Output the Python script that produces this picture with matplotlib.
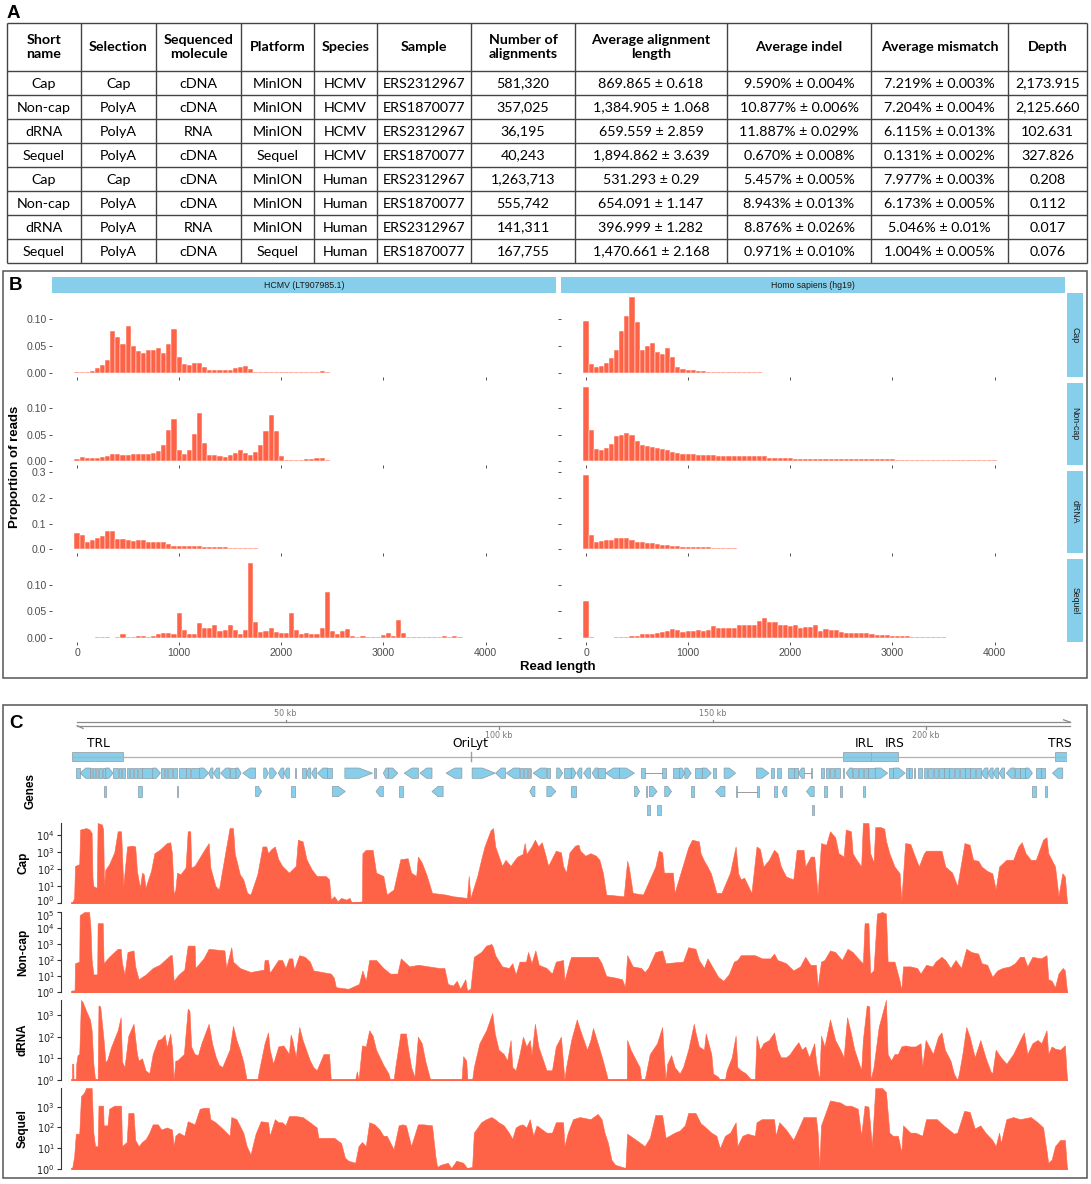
import numpy as np
import matplotlib
matplotlib.use('Agg')
import matplotlib.pyplot as plt
import matplotlib.transforms as mtransforms
from matplotlib.patches import Rectangle, Polygon
from matplotlib.ticker import FixedLocator, FixedFormatter, NullLocator

# ------------------------------------------------------------------ data
# Panel A table
headers = ["Short\nname", "Selection", "Sequenced\nmolecule", "Platform", "Species", "Sample",
           "Number of\nalignments", "Average alignment\nlength", "Average indel", "Average mismatch", "Depth"]
short_names = ["Cap", "Non-cap", "dRNA", "Sequel", "Cap", "Non-cap", "dRNA", "Sequel"]
selection = ["Cap", "PolyA", "PolyA", "PolyA", "Cap", "PolyA", "PolyA", "PolyA"]
molecule = ["cDNA", "cDNA", "RNA", "cDNA", "cDNA", "cDNA", "RNA", "cDNA"]
platform = ["MinION", "MinION", "MinION", "Sequel", "MinION", "MinION", "MinION", "Sequel"]
species = ["HCMV", "HCMV", "HCMV", "HCMV", "Human", "Human", "Human", "Human"]
sample = ["ERS2312967", "ERS1870077", "ERS2312967", "ERS1870077",
          "ERS2312967", "ERS1870077", "ERS2312967", "ERS1870077"]
n_align = ["581,320", "357,025", "36,195", "40,243", "1,263,713", "555,742", "141,311", "167,755"]
avg_len = ["869.865 ± 0.618", "1,384.905 ± 1.068", "659.559 ± 2.859", "1,894.862 ± 3.639",
           "531.293 ± 0.29", "654.091 ± 1.147", "396.999 ± 1.282", "1,470.661 ± 2.168"]
avg_indel = ["9.590% ± 0.004%", "10.877% ± 0.006%", "11.887% ± 0.029%", "0.670% ± 0.008%",
             "5.457% ± 0.005%", "8.943% ± 0.013%", "8.876% ± 0.026%", "0.971% ± 0.010%"]
avg_mm = ["7.219% ± 0.003%", "7.204% ± 0.004%", "6.115% ± 0.013%", "0.131% ± 0.002%",
          "7.977% ± 0.003%", "6.173% ± 0.005%", "5.046% ± 0.01%", "1.004% ± 0.005%"]
depth = ["2,173.915", "2,125.660", "102.631", "327.826", "0.208", "0.112", "0.017", "0.076"]

# Panel B histograms (proportion of reads per 50 bp bin, bins centred at 0, 50, 100, ...)
BINW = 50
row_names = ["Cap", "Non-cap", "dRNA", "Sequel"]
facet_names = ["HCMV (LT907985.1)", "Homo sapiens (hg19)"]
hcmv_cap = [0.002, 0.003, 0.003, 0.004, 0.010, 0.015, 0.025, 0.077, 0.067, 0.053,
            0.087, 0.050, 0.040, 0.037, 0.043, 0.042, 0.047, 0.037, 0.053, 0.081,
            0.029, 0.017, 0.015, 0.018, 0.018, 0.012, 0.006, 0.006, 0.006, 0.005,
            0.006, 0.009, 0.011, 0.013, 0.008, 0.003, 0.003, 0.003, 0.002, 0.002,
            0.002, 0.002, 0.002, 0.002, 0.002, 0.002, 0.003, 0.003, 0.004, 0.003,
            0.001, 0.001, 0.001, 0.001, 0.001, 0.001, 0.001, 0.001, 0.0008, 0.0008,
            0.0006, 0.0006, 0.0006, 0.0005, 0.0005, 0.0005, 0.0004, 0.0004, 0.0003, 0.0003,
            0.0003, 0.0002, 0.0002, 0, 0, 0, 0, 0, 0, 0,
            0, 0, 0, 0, 0, 0, 0, 0, 0, 0]
human_cap = [0.095, 0.017, 0.012, 0.014, 0.018, 0.028, 0.042, 0.077, 0.105, 0.140,
             0.093, 0.043, 0.049, 0.056, 0.038, 0.036, 0.046, 0.029, 0.012, 0.007,
             0.006, 0.005, 0.004, 0.004, 0.003, 0.003, 0.003, 0.003, 0.002, 0.002,
             0.002, 0.002, 0.002, 0.002, 0.003, 0.001, 0.001, 0.001, 0.001, 0.001,
             0.0008, 0.0006, 0.0005, 0.0004, 0.0003, 0.0002, 0, 0, 0, 0,
             0, 0, 0, 0, 0, 0, 0, 0, 0, 0,
             0, 0, 0, 0, 0, 0, 0, 0, 0, 0,
             0, 0, 0, 0, 0, 0, 0, 0, 0, 0,
             0, 0, 0, 0, 0, 0, 0, 0, 0, 0]
hcmv_noncap = [0.004, 0.008, 0.006, 0.006, 0.007, 0.008, 0.010, 0.013, 0.013, 0.012,
               0.012, 0.013, 0.013, 0.013, 0.013, 0.016, 0.020, 0.030, 0.059, 0.079,
               0.022, 0.014, 0.022, 0.051, 0.090, 0.035, 0.011, 0.012, 0.009, 0.008,
               0.011, 0.015, 0.022, 0.015, 0.012, 0.018, 0.031, 0.057, 0.087, 0.057,
               0.009, 0.002, 0.002, 0.002, 0.003, 0.004, 0.005, 0.006, 0.007, 0.002,
               0.001, 0.001, 0.001, 0.001, 0.001, 0.001, 0.001, 0.001, 0.001, 0.001,
               0.0008, 0.0008, 0.0008, 0.0008, 0.0006, 0.0006, 0.0006, 0.0006, 0.0005, 0.0005,
               0.0005, 0.0004, 0.0004, 0.0004, 0.0003, 0.0003, 0.0003, 0.0003, 0.0002, 0.0002,
               0.0002, 0.0002, 0.0002, 0.0001, 0.0001, 0.0001, 0.0001, 0.0001, 0.0001, 0.0001]
human_noncap = [0.140, 0.059, 0.023, 0.021, 0.025, 0.033, 0.047, 0.050, 0.053, 0.050,
                0.038, 0.030, 0.028, 0.027, 0.025, 0.023, 0.021, 0.018, 0.015, 0.014,
                0.014, 0.013, 0.012, 0.011, 0.011, 0.011, 0.010, 0.010, 0.010, 0.010,
                0.009, 0.009, 0.009, 0.009, 0.009, 0.009, 0.007, 0.007, 0.007, 0.007,
                0.007, 0.005, 0.005, 0.005, 0.005, 0.005, 0.005, 0.005, 0.005, 0.005,
                0.005, 0.004, 0.004, 0.004, 0.004, 0.004, 0.004, 0.004, 0.004, 0.004,
                0.004, 0.003, 0.003, 0.003, 0.003, 0.003, 0.003, 0.003, 0.003, 0.003,
                0.003, 0.002, 0.002, 0.002, 0.002, 0.002, 0.002, 0.002, 0.002, 0.002,
                0.002, 0.001, 0.001, 0.001, 0.001, 0.001, 0.001, 0.001, 0.001, 0.001]
hcmv_drna = [0.062, 0.055, 0.030, 0.038, 0.045, 0.051, 0.072, 0.072, 0.040, 0.040,
             0.038, 0.033, 0.037, 0.035, 0.030, 0.030, 0.030, 0.030, 0.022, 0.013,
             0.012, 0.012, 0.012, 0.012, 0.012, 0.008, 0.008, 0.008, 0.008, 0.008,
             0.005, 0.005, 0.005, 0.005, 0.005, 0.005, 0.003, 0.003, 0.003, 0.003,
             0.003, 0.003, 0.003, 0.003, 0.003, 0.003, 0.003, 0.003, 0.003, 0.003,
             0.002, 0.002, 0.002, 0.002, 0.002, 0.002, 0.002, 0.002, 0.002, 0.002,
             0.001, 0.001, 0.001, 0.001, 0.001, 0.001, 0.001, 0.001, 0.001, 0.001,
             0.001, 0.001, 0.001, 0.001, 0.001, 0.0008, 0.0008, 0.0008, 0.0006, 0.0006,
             0.0005, 0.0005, 0.0004, 0.0004, 0.0003, 0.0003, 0.0002, 0.0002, 0.0002, 0.0001]
human_drna = [0.290, 0.055, 0.027, 0.032, 0.036, 0.038, 0.042, 0.042, 0.042, 0.038,
              0.029, 0.027, 0.024, 0.023, 0.020, 0.018, 0.015, 0.014, 0.013, 0.010,
              0.008, 0.008, 0.008, 0.008, 0.008, 0.005, 0.005, 0.005, 0.005, 0.005,
              0.003, 0.003, 0.003, 0.003, 0.003, 0.003, 0.003, 0.003, 0.003, 0.003,
              0.003, 0.002, 0.002, 0.002, 0.002, 0.002, 0.002, 0.002, 0.002, 0.002,
              0.002, 0.002, 0.002, 0.002, 0.002, 0.002, 0.002, 0.002, 0.002, 0.002,
              0.001, 0.001, 0.001, 0.001, 0.001, 0.001, 0.001, 0.001, 0.001, 0.001,
              0.001, 0.001, 0.001, 0.001, 0.001, 0.0005, 0.0005, 0.0005, 0.0005, 0.0005,
              0, 0, 0, 0, 0, 0, 0, 0, 0, 0]
hcmv_sequel = [0.001, 0.001, 0.001, 0.001, 0.002, 0.002, 0.002, 0.001, 0.002, 0.007,
               0.003, 0.003, 0.005, 0.004, 0.003, 0.005, 0.007, 0.010, 0.010, 0.007,
               0.048, 0.016, 0.008, 0.008, 0.028, 0.019, 0.019, 0.024, 0.013, 0.015,
               0.024, 0.015, 0.008, 0.015, 0.141, 0.030, 0.011, 0.013, 0.019, 0.011,
               0.009, 0.009, 0.047, 0.015, 0.008, 0.010, 0.008, 0.008, 0.019, 0.086,
               0.013, 0.007, 0.013, 0.017, 0.004, 0.003, 0.004, 0.003, 0.003, 0.003,
               0.006, 0.010, 0.005, 0.034, 0.010, 0.002, 0.002, 0.002, 0.002, 0.002,
               0.002, 0.002, 0.004, 0.002, 0.005, 0.002, 0.001, 0.001, 0.001, 0.001,
               0.001, 0.001, 0.001, 0.001, 0.001, 0.001, 0, 0, 0, 0]
human_sequel = [0.069, 0.003, 0.001, 0.001, 0.001, 0.001, 0.002, 0.002, 0.003, 0.005,
                0.005, 0.007, 0.007, 0.008, 0.010, 0.011, 0.014, 0.018, 0.016, 0.011,
                0.013, 0.014, 0.016, 0.014, 0.016, 0.022, 0.019, 0.019, 0.019, 0.019,
                0.024, 0.024, 0.024, 0.024, 0.033, 0.038, 0.030, 0.031, 0.024, 0.024,
                0.022, 0.024, 0.019, 0.021, 0.021, 0.024, 0.014, 0.018, 0.016, 0.016,
                0.011, 0.010, 0.010, 0.010, 0.010, 0.010, 0.007, 0.006, 0.006, 0.006,
                0.004, 0.004, 0.004, 0.004, 0.002, 0.002, 0.002, 0.002, 0.002, 0.002,
                0.002, 0.001, 0.001, 0.001, 0.001, 0.001, 0.001, 0.001, 0.001, 0.001,
                0.001, 0.001, 0.001, 0.001, 0.001, 0.001, 0.001, 0.001, 0.001, 0.001]
xticks_b = [0, 1000, 2000, 3000, 4000]

# Panel C: genome annotation (positions in kb)
GENOME_KB = 233.0
ruler_ticks_kb = [50, 100, 150, 200]
regions = [("TRL", 0.0, 12.0), ("IRL", 180.6, 187.2), ("IRS", 187.2, 193.5), ("TRS", 230.2, 233.0)]
region_label_kb = [6.2, 185.5, 192.6, 231.3]
orilyt_kb = 93.4
# genes: (start kb, end kb, strand, row)
genes = [
    (0.9, 1.9, '.', 0), (1.9, 4.3, '-', 0), (4.3, 4.7, '.', 0), (4.9, 5.4, '.', 0), (5.6, 6.1, '.', 0),
    (6.3, 7.1, '.', 0), (7.3, 7.9, '.', 0), (7.9, 9.6, '+', 0), (9.6, 10.7, '.', 0), (10.9, 11.5, '.', 0),
    (11.7, 12.5, '.', 0), (12.8, 13.4, '.', 0), (13.6, 14.4, '.', 0), (14.6, 15.2, '.', 0), (15.4, 16.4, '.', 0),
    (16.4, 18.9, '.', 0), (18.9, 20.7, '+', 0), (20.9, 21.5, '.', 0), (21.7, 22.3, '.', 0), (22.5, 23.4, '.', 0),
    (23.6, 24.6, '.', 0), (25.0, 26.7, '.', 0), (26.8, 27.7, '.', 0), (27.9, 29.9, '.', 0), (29.9, 32.0, '+', 0),
    (32.0, 33.0, '-', 0), (33.1, 34.6, '-', 0), (34.8, 37.0, '-', 0), (37.0, 38.4, '.', 0), (38.4, 39.6, '+', 0),
    (40.0, 43.0, '-', 0), (44.9, 46.0, '+', 0), (46.3, 47.9, '+', 0), (48.3, 49.6, '-', 0), (49.6, 50.9, '-', 0),
    (52.3, 52.5, '.', 0), (53.9, 54.7, '.', 0), (54.9, 55.9, '-', 0), (56.1, 57.3, '-', 0), (57.5, 59.8, '-', 0),
    (59.8, 61.0, '.', 0), (63.9, 70.4, '+', 0), (70.7, 71.1, '.', 0), (72.9, 74.1, '-', 0), (74.1, 76.3, '+', 0),
    (77.8, 81.1, '-', 0), (81.5, 84.3, '-', 0), (87.6, 91.3, '-', 0), (93.7, 99.1, '+', 0), (99.2, 101.5, '-', 0),
    (101.7, 104.8, '-', 0), (104.8, 105.6, '.', 0), (105.8, 106.6, '.', 0), (106.8, 107.2, '.', 0),
    (107.4, 107.6, '.', 0), (108.0, 111.1, '-', 0), (111.2, 112.0, '.', 0), (113.5, 114.9, '+', 0),
    (115.3, 116.9, '.', 0), (116.9, 118.0, '+', 0), (118.2, 119.4, '-', 0), (119.8, 121.4, '-', 0),
    (121.8, 123.2, '-', 0), (123.2, 124.7, '.', 0), (125.0, 128.2, '-', 0), (128.2, 131.7, '+', 0),
    (133.3, 134.1, '.', 0), (138.2, 139.0, '.', 0), (140.7, 142.3, '.', 0), (142.3, 143.5, '+', 0),
    (143.5, 145.0, '+', 0), (145.8, 147.6, '.', 0), (147.6, 149.7, '+', 0), (150.1, 150.7, '.', 0),
    (152.7, 155.4, '+', 0), (160.3, 163.2, '+', 0), (163.8, 164.4, '.', 0), (165.2, 166.0, '.', 0),
    (167.6, 169.0, '.', 0), (169.0, 169.9, '.', 0), (170.1, 171.5, '-', 0), (173.0, 173.3, '.', 0),
    (175.4, 176.2, '.', 0), (176.5, 177.3, '.', 0), (177.5, 178.5, '.', 0), (178.7, 179.9, '.', 0),
    (180.5, 180.7, '.', 0), (181.3, 182.8, '-', 0), (182.8, 184.0, '.', 0), (184.2, 185.2, '.', 0),
    (185.4, 186.5, '.', 0), (186.5, 188.1, '.', 0), (188.1, 191.0, '+', 0), (191.4, 192.2, '.', 0),
    (192.4, 195.1, '+', 0), (195.2, 195.9, '.', 0), (196.1, 196.7, '.', 0), (197.1, 197.5, '.', 0),
    (198.2, 199.0, '.', 0), (199.6, 200.1, '.', 0), (200.4, 201.6, '.', 0), (201.8, 202.8, '.', 0),
    (203.0, 204.1, '.', 0), (204.2, 205.3, '.', 0), (205.4, 206.5, '.', 0), (206.7, 207.7, '.', 0),
    (207.9, 209.0, '.', 0), (209.1, 210.2, '.', 0), (210.4, 211.4, '.', 0), (211.6, 212.9, '.', 0),
    (212.9, 214.5, '-', 0), (214.5, 215.7, '-', 0), (215.7, 217.0, '-', 0), (217.1, 218.4, '-', 0),
    (218.8, 220.8, '-', 0), (220.8, 222.1, '.', 0), (222.1, 223.3, '.', 0), (223.3, 224.9, '+', 0),
    (225.7, 226.8, '.', 0), (226.9, 227.9, '.', 0), (229.6, 232.0, '-', 0),
    (7.4, 7.9, '.', 1), (15.5, 16.4, '.', 1), (24.6, 24.9, '.', 1), (43.0, 44.4, '+', 1), (51.2, 52.3, '.', 1),
    (61.0, 64.0, '+', 1), (71.2, 72.9, '-', 1), (76.6, 77.6, '.', 1), (84.3, 86.9, '-', 1), (107.2, 108.4, '-', 1),
    (111.2, 113.3, '+', 1), (116.9, 118.0, '.', 1), (131.7, 132.9, '+', 1), (134.4, 134.7, '.', 1),
    (135.2, 137.0, '+', 1), (138.8, 140.4, '+', 1), (145.0, 145.6, '.', 1), (150.7, 152.9, '-', 1),
    (155.4, 155.8, '.', 1), (160.3, 160.9, '.', 1), (164.4, 165.2, '.', 1), (166.3, 167.4, '-', 1),
    (172.0, 173.8, '-', 1), (176.2, 176.9, '.', 1), (179.8, 180.3, '.', 1), (185.2, 185.6, '.', 1),
    (224.9, 225.7, '.', 1), (227.9, 228.2, '.', 1),
    (134.7, 135.3, '.', 2), (137.1, 138.0, '.', 2), (173.4, 173.8, '.', 2),
]
gene_links = [(134.1, 138.2, 0), (171.5, 173.0, 0), (155.8, 160.3, 1)]

# Coverage tracks: (position kb, log10 coverage)
cap_cov = [(0.0, 0.0), (0.5, 0.3), (0.7, 2.2), (1.7, 2.3), (1.9, 4.35), (3.3, 4.44), (4.1, 4.35), (4.6, 4.15),
           (4.8, 1.5), (5.0, 1.0), (5.8, 0.9), (6.0, 4.74), (7.0, 4.65), (7.3, 4.35), (7.5, 1.0), (7.8, 1.96),
           (8.7, 2.3), (9.9, 3.0), (10.7, 4.25), (11.5, 4.25), (11.7, 2.9), (12.0, 1.0), (12.9, 3.35), (14.0, 3.4),
           (14.8, 3.35), (15.2, 1.9), (15.9, 0.9), (16.4, 1.8), (16.8, 1.7), (17.2, 0.9), (18.5, 1.9), (19.3, 2.95),
           (20.5, 3.15), (22.2, 3.55), (23.0, 3.6), (23.4, 2.95), (23.8, 0.5), (24.2, 0.8), (24.6, 1.8), (25.4, 1.7),
           (26.6, 2.1), (27.1, 4.25), (27.7, 4.25), (27.9, 2.1), (28.7, 2.2), (29.9, 2.7), (31.1, 3.2), (32.0, 3.55),
           (32.4, 2.1), (33.6, 1.0), (34.4, 0.8), (36.0, 3.15), (36.9, 4.44), (37.7, 4.44), (38.1, 2.95), (39.3, 1.7),
           (40.1, 1.4), (41.0, 0.6), (41.8, 0.5), (43.4, 1.7), (44.6, 3.35), (45.5, 3.35), (45.9, 2.95), (46.7, 3.2),
           (47.5, 3.35), (48.3, 2.6), (49.2, 2.2), (50.8, 1.8), (52.4, 2.2), (52.9, 3.75), (54.0, 3.65), (54.9, 2.6),
           (56.1, 2.0), (57.3, 1.6), (59.4, 1.6), (60.2, 1.4), (60.6, 0.2), (61.4, 0.4), (62.2, 0.1), (63.0, 0.3),
           (64.2, 0.2), (65.0, 0.3), (65.5, 0.0), (67.9, 0.1), (68.0, 2.95), (68.8, 3.15), (70.4, 3.15), (71.2, 1.8),
           (72.9, 1.6), (73.7, 0.5), (75.3, 0.8), (76.9, 2.6), (78.6, 2.65), (79.4, 1.8), (80.6, 1.6), (81.0, 2.75),
           (81.9, 2.4), (83.1, 1.6), (84.3, 0.6), (87.5, 0.5), (89.2, 0.4), (92.5, 0.3), (92.9, 1.6), (93.3, 0.3),
           (94.9, 1.6), (95.8, 2.56), (96.6, 3.35), (98.0, 4.3), (98.6, 4.44), (99.1, 3.35), (100.7, 2.2),
           (101.5, 2.56), (102.7, 2.2), (103.5, 2.5), (104.3, 2.75), (105.5, 2.9), (106.0, 3.55), (106.4, 2.9),
           (107.6, 3.35), (108.4, 3.75), (109.2, 3.35), (110.0, 3.6), (110.8, 2.9), (111.5, 2.2), (113.3, 3.1),
           (114.5, 3.0), (115.0, 2.2), (115.7, 1.8), (116.5, 3.0), (117.8, 3.4), (118.6, 3.45), (119.0, 3.1),
           (120.2, 2.8), (121.4, 2.95), (122.7, 2.8), (123.5, 2.56), (124.3, 1.8), (125.1, 0.5), (129.2, 0.4),
           (130.0, 2.5), (130.4, 2.1), (131.3, 0.6), (133.7, 0.5), (136.6, 2.16), (137.4, 3.1), (138.2, 3.0),
           (138.6, 1.8), (140.7, 1.8), (141.1, 0.6), (144.3, 3.3), (145.2, 3.75), (146.8, 3.65), (147.2, 2.95),
           (148.0, 2.5), (148.8, 2.16), (149.6, 1.76), (150.9, 0.6), (152.1, 0.6), (154.1, 1.8), (155.4, 3.35),
           (156.0, 1.76), (156.6, 1.4), (157.4, 1.5), (159.1, 0.6), (160.3, 3.35), (161.1, 3.2), (161.9, 2.16),
           (163.2, 2.56), (164.4, 3.15), (165.2, 2.95), (166.0, 2.16), (167.2, 1.57), (168.9, 1.4), (169.7, 3.15),
           (171.3, 3.15), (171.7, 2.16), (173.0, 2.75), (173.8, 2.75), (174.6, 0.5), (175.4, 3.55), (176.6, 3.45),
           (177.5, 4.25), (178.7, 3.9), (179.5, 2.95), (180.7, 2.75), (181.2, 4.35), (182.4, 4.25), (182.8, 2.95),
           (183.6, 2.6), (184.8, 2.16), (185.2, 4.74), (186.5, 4.74), (186.9, 2.95), (187.7, 2.4), (188.1, 4.5),
           (189.3, 4.5), (190.2, 4.4), (190.6, 3.7), (191.4, 2.95), (192.6, 2.16), (193.8, 1.76), (194.2, 0.1),
           (195.1, 3.55), (196.3, 3.5), (197.1, 2.95), (198.3, 2.16), (199.5, 2.95), (200.0, 3.1), (203.6, 3.1),
           (204.5, 2.16), (206.1, 1.8), (207.3, 1.0), (209.0, 3.55), (210.2, 3.45), (211.0, 2.56), (212.2, 2.5),
           (213.0, 2.16), (214.3, 1.9), (215.5, 1.76), (216.3, 0.8), (217.1, 2.16), (218.8, 2.56), (220.4, 2.56),
           (221.6, 3.35), (222.4, 3.6), (223.3, 2.95), (224.5, 2.56), (225.7, 2.56), (227.4, 3.75), (228.2, 3.9),
           (228.6, 2.95), (230.2, 2.16), (231.0, 0.4), (231.9, 1.76), (232.5, 1.57), (233.0, 0.0)]
noncap_cov = [(0.0, 0.1), (0.6, 0.1), (0.7, 1.8), (1.7, 1.9), (1.8, 4.8), (2.9, 5.0), (4.0, 5.0), (4.3, 4.1),
              (4.6, 2.0), (5.0, 1.1), (5.9, 1.1), (6.0, 4.3), (7.2, 4.3), (7.4, 1.8), (8.7, 2.2), (10.7, 2.7),
              (11.4, 2.7), (11.7, 1.8), (12.3, 1.1), (13.0, 2.5), (14.4, 2.6), (14.8, 1.6), (15.6, 0.8), (17.3, 1.1),
              (18.9, 1.5), (20.5, 1.7), (23.0, 2.3), (23.4, 2.3), (23.8, 0.7), (25.0, 1.1), (26.3, 1.4), (27.1, 2.9),
              (28.7, 2.9), (28.9, 1.5), (30.8, 2.1), (32.0, 2.7), (35.7, 2.6), (36.1, 1.5), (37.3, 2.8), (37.7, 1.9),
              (39.3, 1.5), (41.8, 1.25), (44.9, 1.4), (45.1, 2.0), (45.9, 2.0), (46.3, 1.2), (48.3, 2.0), (49.2, 2.0),
              (50.0, 1.5), (50.8, 2.1), (51.6, 2.1), (52.0, 1.4), (53.2, 2.3), (54.5, 2.2), (55.7, 1.9), (56.5, 1.35),
              (60.6, 1.15), (61.3, 0.9), (61.8, 0.3), (64.7, 0.2), (67.2, 0.5), (68.0, 1.35), (68.8, 0.7), (69.6, 2.0),
              (71.2, 2.0), (72.9, 1.5), (74.5, 1.15), (76.2, 1.15), (77.0, 2.1), (79.0, 1.6), (81.1, 1.7), (86.0, 1.5),
              (87.2, 1.5), (88.0, 0.5), (89.2, 0.4), (90.1, 0.7), (90.9, 0.2), (92.1, 0.8), (92.5, 0.1), (93.3, 0.2),
              (94.1, 2.2), (95.8, 2.5), (97.0, 2.9), (98.2, 3.0), (98.6, 2.8), (99.1, 2.3), (100.7, 1.6), (102.3, 1.5),
              (103.1, 1.8), (103.9, 1.1), (104.8, 1.9), (106.3, 1.9), (106.8, 2.5), (107.6, 1.8), (108.5, 2.6),
              (109.3, 1.7), (111.1, 1.5), (112.4, 1.15), (113.3, 1.9), (115.0, 2.0), (115.3, 0.7), (116.5, 1.9),
              (116.9, 2.2), (123.1, 2.2), (124.0, 1.8), (125.1, 1.0), (127.2, 0.9), (128.8, 0.8), (129.5, 0.3),
              (130.0, 2.3), (131.3, 1.6), (133.3, 1.5), (134.1, 1.25), (134.9, 1.5), (136.6, 2.5), (138.2, 2.6),
              (139.0, 1.8), (143.1, 1.9), (144.3, 2.8), (146.0, 2.7), (146.8, 2.0), (148.0, 1.5), (148.8, 2.1),
              (150.1, 1.5), (151.3, 0.95), (152.5, 0.7), (153.8, 1.1), (155.0, 1.9), (155.8, 2.0), (156.6, 2.3),
              (159.9, 2.3), (161.6, 2.1), (163.5, 2.1), (164.4, 2.4), (165.2, 2.0), (167.2, 1.8), (168.9, 1.35),
              (170.5, 1.6), (171.7, 2.2), (172.9, 1.7), (174.2, 1.7), (174.6, 0.3), (175.4, 1.9), (176.2, 2.0),
              (177.5, 2.6), (178.7, 2.5), (180.3, 2.0), (181.6, 2.7), (182.8, 2.5), (184.4, 2.0), (185.2, 1.8),
              (185.6, 4.3), (186.5, 4.3), (186.9, 1.15), (187.7, 1.35), (188.5, 4.9), (189.7, 5.0), (190.6, 4.9),
              (191.0, 1.9), (192.6, 1.9), (193.8, 0.7), (194.2, 0.1), (194.6, 1.6), (196.3, 1.6), (197.9, 1.5),
              (198.7, 1.15), (200.0, 1.7), (201.5, 1.6), (202.2, 1.9), (203.6, 2.2), (204.5, 2.0), (205.7, 1.5),
              (206.9, 2.0), (208.2, 1.5), (209.4, 2.7), (210.6, 2.5), (212.2, 2.4), (213.0, 1.8), (214.3, 1.7),
              (215.5, 0.95), (216.7, 1.35), (217.9, 1.5), (219.6, 1.6), (220.8, 1.8), (222.0, 2.2), (222.9, 2.2),
              (223.7, 1.6), (224.9, 2.2), (226.9, 2.1), (228.2, 2.3), (228.6, 0.8), (229.4, 0.7), (230.2, 0.3),
              (231.0, 1.15), (232.0, 1.5), (232.5, 1.35), (233.0, 0.0)]
drna_cov = [(0.0, 0.75), (0.3, 0.75), (0.35, 0.0), (0.9, 0.0), (1.0, 0.75), (1.3, 1.15), (1.7, 1.2), (2.1, 3.7),
            (2.5, 3.6), (3.3, 3.2), (4.2, 2.8), (4.6, 2.3), (5.0, 0.75), (5.4, 0.0), (6.0, 0.0), (6.2, 3.45),
            (6.6, 3.4), (7.4, 1.85), (7.8, 0.85), (8.2, 0.9), (9.1, 1.5), (10.7, 2.3), (11.4, 2.9), (11.7, 0.85),
            (12.3, 0.6), (13.2, 2.05), (14.4, 2.6), (15.2, 1.2), (15.6, 0.9), (16.4, 1.0), (17.2, 0.45), (18.1, 0.3),
            (18.9, 1.2), (20.1, 1.85), (20.9, 1.9), (21.7, 2.1), (22.2, 1.5), (23.0, 2.15), (23.4, 1.5), (23.8, 0.0),
            (24.2, 0.9), (24.6, 0.9), (26.2, 1.2), (27.1, 3.3), (27.5, 3.2), (27.9, 1.55), (28.7, 1.2), (29.5, 1.15),
            (30.3, 1.7), (32.0, 2.6), (32.8, 1.7), (33.6, 1.1), (34.4, 0.7), (35.2, 0.6), (36.9, 1.4), (37.7, 2.5),
            (38.5, 1.85), (39.3, 1.4), (40.1, 0.85), (40.9, 0.0), (43.4, 0.0), (43.8, 0.45), (45.1, 1.7),
            (45.9, 2.2), (46.3, 1.4), (47.1, 0.75), (48.3, 1.55), (49.5, 1.6), (50.8, 1.2), (51.2, 2.1),
            (51.6, 1.85), (52.4, 1.05), (53.2, 2.45), (54.0, 1.85), (55.7, 0.9), (56.5, 0.6), (57.3, 0.45),
            (58.9, 1.2), (60.2, 1.2), (60.6, 0.0), (66.3, 0.0), (66.7, 0.4), (67.1, 0.0), (67.9, 1.6), (68.8, 1.55),
            (69.6, 2.3), (70.4, 2.05), (71.2, 1.4), (72.9, 0.7), (74.1, 0.3), (74.5, 0.0), (75.3, 0.0), (75.7, 0.6),
            (76.9, 2.15), (78.2, 2.15), (78.6, 1.55), (79.4, 0.6), (80.2, 0.15), (81.0, 2.0), (81.9, 1.7),
            (82.7, 0.9), (83.5, 0.3), (83.9, 0.0), (91.2, 0.0), (91.6, 1.1), (92.3, 0.9), (92.6, 0.0), (93.7, 0.0),
            (94.1, 0.6), (95.4, 1.7), (97.0, 2.3), (98.4, 3.1), (99.0, 2.15), (99.9, 1.4), (101.1, 1.2),
            (101.9, 0.9), (102.7, 1.85), (103.1, 0.6), (103.9, 0.45), (104.8, 1.2), (105.6, 2.0), (106.4, 1.55),
            (107.2, 1.85), (107.6, 1.15), (108.4, 2.6), (109.2, 1.55), (111.1, 0.45), (112.4, 0.45), (113.3, 1.55),
            (114.5, 2.0), (115.3, 0.0), (115.7, 0.6), (116.9, 1.85), (118.2, 2.8), (119.0, 2.3), (120.6, 1.4),
            (121.4, 1.85), (122.0, 2.4), (123.1, 1.7), (124.3, 0.9), (125.5, 0.0), (129.9, 0.0), (130.0, 1.85),
            (130.8, 1.4), (132.1, 0.9), (132.9, 0.6), (133.3, 0.0), (134.1, 0.0), (135.3, 1.2), (137.0, 1.7),
            (138.2, 2.45), (138.6, 1.05), (139.0, 0.0), (139.4, 0.75), (140.3, 1.15), (141.1, 0.6), (142.3, 0.3),
            (143.1, 0.6), (144.3, 1.4), (145.6, 2.6), (146.0, 2.2), (146.8, 1.55), (148.0, 1.4), (148.4, 2.15),
            (149.7, 1.2), (150.1, 0.3), (151.3, 0.15), (151.7, 0.0), (152.9, 0.0), (153.3, 0.45), (154.5, 1.05),
            (155.4, 2.05), (155.8, 0.6), (156.6, 0.45), (157.8, 0.3), (159.1, 0.0), (159.9, 0.0), (160.3, 2.05),
            (161.1, 1.4), (161.9, 1.7), (163.2, 1.85), (164.4, 2.2), (165.2, 1.4), (166.0, 1.05), (167.2, 1.05),
            (168.1, 1.2), (169.3, 1.55), (170.1, 1.75), (170.9, 1.4), (171.7, 1.55), (172.6, 1.05), (173.8, 1.7),
            (174.2, 0.9), (175.0, 0.0), (175.4, 2.05), (176.2, 1.55), (177.5, 2.8), (178.7, 1.85), (179.9, 1.4),
            (180.7, 1.05), (181.5, 2.9), (182.4, 2.15), (183.2, 1.4), (184.8, 0.45), (185.2, 1.85), (186.1, 3.45),
            (186.7, 3.4), (187.0, 0.0), (187.7, 0.6), (188.9, 2.45), (190.6, 3.7), (191.0, 1.2), (191.8, 0.9),
            (192.6, 1.2), (193.4, 1.2), (194.2, 1.55), (195.1, 1.6), (196.3, 1.55), (197.5, 1.55), (198.7, 1.7),
            (199.1, 0.6), (199.9, 1.85), (200.7, 1.55), (201.6, 1.2), (202.8, 2.0), (203.6, 2.2), (204.4, 1.4),
            (205.7, 0.9), (206.5, 0.3), (207.3, 0.0), (207.7, 0.3), (208.5, 1.2), (209.4, 2.45), (210.2, 2.0),
            (211.4, 1.05), (212.7, 1.85), (213.9, 1.05), (215.1, 0.4), (215.5, 0.3), (216.3, 1.4), (217.5, 1.05),
            (218.8, 0.75), (220.4, 1.2), (222.0, 1.85), (222.9, 2.2), (223.7, 1.2), (224.9, 1.7), (226.1, 1.85),
            (227.0, 1.7), (228.2, 2.3), (228.6, 1.2), (229.4, 1.55), (230.2, 1.45), (231.4, 1.4), (232.5, 1.6),
            (233.0, 0.0)]
sequel_cov = [(0.0, 0.0), (0.5, 0.6), (0.9, 1.7), (1.7, 1.7), (2.1, 3.5), (2.9, 3.7), (3.3, 3.9), (4.6, 3.9),
              (5.0, 1.75), (5.4, 1.1), (6.0, 1.1), (6.2, 3.05), (7.3, 3.05), (7.4, 2.1), (8.3, 2.1), (8.7, 2.9),
              (9.9, 3.05), (11.5, 3.05), (11.7, 1.1), (12.8, 1.3), (13.2, 2.7), (14.4, 2.7), (14.8, 1.4), (15.6, 1.1),
              (16.4, 1.3), (17.3, 1.45), (18.1, 1.75), (18.9, 2.15), (20.1, 2.15), (20.9, 1.9), (22.2, 2.0),
              (23.4, 1.9), (23.8, 1.1), (24.2, 1.6), (25.0, 1.75), (26.3, 1.6), (27.1, 2.3), (28.7, 2.15),
              (29.9, 2.9), (31.1, 2.95), (32.0, 2.95), (32.4, 2.4), (33.6, 2.25), (35.2, 1.95), (36.9, 1.6),
              (37.3, 2.5), (38.5, 2.4), (40.1, 1.75), (40.9, 1.1), (41.8, 0.7), (43.0, 1.7), (44.2, 2.3), (45.9, 2.25),
              (46.3, 1.6), (47.5, 2.4), (48.3, 2.25), (49.2, 2.25), (50.0, 2.1), (50.8, 2.55), (52.4, 2.55),
              (54.0, 2.5), (55.7, 2.25), (57.3, 2.0), (57.7, 1.5), (58.9, 1.5), (61.4, 1.5), (63.0, 1.25),
              (63.9, 0.55), (64.7, 0.4), (66.3, 0.3), (67.1, 1.1), (67.9, 1.3), (68.8, 1.1), (69.6, 2.25),
              (70.8, 2.15), (72.0, 1.9), (72.9, 1.6), (73.7, 1.6), (75.3, 0.95), (76.5, 2.1), (77.4, 2.15),
              (78.2, 2.1), (79.4, 1.1), (81.0, 2.15), (82.3, 2.15), (84.3, 2.1), (85.1, 0.6), (85.5, 0.1), (86.3, 0.2),
              (88.0, 0.3), (88.8, 0.05), (90.0, 0.4), (91.6, 0.3), (92.5, 0.05), (93.7, 0.1), (94.1, 1.75),
              (95.8, 2.25), (97.0, 2.4), (98.2, 2.5), (99.0, 2.4), (99.9, 2.25), (101.1, 2.1), (102.3, 1.75),
              (103.1, 1.45), (103.9, 2.0), (104.7, 2.1), (105.5, 2.15), (106.4, 2.0), (107.2, 2.4), (108.0, 1.6),
              (108.8, 2.1), (111.1, 1.75), (112.4, 1.75), (113.3, 2.25), (115.0, 2.25), (115.3, 1.1), (116.1, 1.75),
              (117.3, 2.4), (118.9, 2.5), (121.4, 2.4), (123.1, 2.65), (124.0, 2.4), (124.7, 1.75), (125.5, 1.25),
              (126.3, 0.45), (127.2, 0.2), (128.8, 0.1), (129.6, 0.05), (130.0, 1.7), (132.1, 1.4), (134.1, 1.1),
              (135.3, 1.5), (136.6, 2.6), (138.2, 2.6), (139.0, 1.5), (141.1, 1.75), (142.3, 1.85), (143.5, 2.1),
              (144.3, 2.7), (146.0, 2.7), (147.2, 2.2), (148.4, 2.0), (149.7, 1.75), (150.9, 1.6), (151.7, 1.0),
              (152.9, 1.6), (154.1, 1.75), (155.4, 2.25), (155.8, 1.1), (157.0, 1.6), (158.2, 1.7), (159.9, 1.6),
              (160.3, 2.25), (161.5, 2.4), (164.4, 2.4), (164.8, 1.6), (165.6, 2.25), (167.2, 1.9), (168.9, 1.4),
              (169.7, 1.75), (171.3, 2.5), (174.2, 2.5), (174.6, 1.75), (175.0, 0.1), (175.4, 2.1), (177.5, 3.3),
              (179.9, 3.2), (181.1, 3.05), (182.4, 3.05), (184.0, 2.9), (184.8, 1.6), (185.6, 3.05), (186.5, 3.0),
              (187.3, 1.1), (188.1, 3.9), (189.7, 3.9), (190.6, 3.7), (191.4, 1.75), (192.2, 1.6), (193.4, 1.6),
              (194.2, 0.8), (194.6, 2.1), (196.3, 1.75), (197.5, 1.75), (199.1, 1.6), (200.0, 2.4), (202.5, 2.4),
              (204.1, 2.1), (206.5, 1.7), (207.3, 1.75), (208.9, 2.8), (210.2, 2.75), (211.4, 1.95), (212.7, 2.1),
              (213.9, 1.75), (215.5, 1.4), (216.3, 1.1), (217.1, 1.75), (217.5, 1.25), (218.8, 2.4), (220.4, 2.5),
              (222.0, 2.4), (224.5, 2.5), (226.1, 2.25), (227.4, 2.0), (228.6, 0.3), (229.4, 0.45), (230.2, 1.1),
              (231.4, 1.4), (232.5, 1.4), (233.0, 0.0)]
track_names = ["Cap", "Non-cap", "dRNA", "Sequel"]

# ------------------------------------------------------------------ style
RED = '#FF6347'
BLUE = '#87CEEB'
W, H = 1091, 1184
TABLE_FONT = ['Lato', 'DejaVu Sans']
SANS = ['Liberation Sans', 'DejaVu Sans']

fig = plt.figure(figsize=(W / 100, H / 100), dpi=100)
fig.patch.set_facecolor('white')


def frac(x0, y0, x1, y1):
    return [x0 / W, 1 - y1 / H, (x1 - x0) / W, (y1 - y0) / H]


bg = fig.add_axes([0, 0, 1, 1])
bg.set_xlim(0, W)
bg.set_ylim(H, 0)
bg.axis('off')

# ------------------------------------------------------------------ Panel A
bg.text(7, 13, 'A', fontsize=13.5, fontweight='bold', family=SANS, ha='left', va='center')
col_x = [7, 81, 156, 241, 314, 377, 471, 575, 727, 871, 1008, 1087]
row_y = [23, 71] + [71 + 24 * (k + 1) for k in range(8)]
for y in row_y:
    bg.plot([col_x[0], col_x[-1]], [y, y], color='#444444', lw=1.0, solid_capstyle='butt')
for x in col_x:
    bg.plot([x, x], [row_y[0], row_y[-1]], color='#444444', lw=1.0, solid_capstyle='butt')
columns = [short_names, selection, molecule, platform, species, sample, n_align, avg_len, avg_indel, avg_mm, depth]
for j, head in enumerate(headers):
    cx = (col_x[j] + col_x[j + 1]) / 2
    bg.text(cx, (row_y[0] + row_y[1]) / 2, head, ha='center', va='center', fontsize=10.3,
            fontweight='bold', family=TABLE_FONT, linespacing=1.15)
    for i, val in enumerate(columns[j]):
        cy = (row_y[i + 1] + row_y[i + 2]) / 2
        bg.text(cx, cy + 0.5, val, ha='center', va='center', fontsize=10.3, family=TABLE_FONT)

# ------------------------------------------------------------------ Panel B
bg.add_patch(Rectangle((3, 271), 1084, 407, fill=False, edgecolor='#555555', lw=1.1))
bg.text(9, 285, 'B', fontsize=13.5, fontweight='bold', family=SANS, ha='left', va='center')
hists = [[hcmv_cap, human_cap], [hcmv_noncap, human_noncap], [hcmv_drna, human_drna], [hcmv_sequel, human_sequel]]
row_px = [(293, 377), (383, 465), (471, 553), (559, 642)]
col_px = [(52, 556), (561, 1065)]
strip_top = (277, 293)
for c in range(2):
    x0, x1 = col_px[c]
    bg.add_patch(Rectangle((x0, strip_top[0]), x1 - x0, strip_top[1] - strip_top[0], color=BLUE, lw=0))
    bg.text((x0 + x1) / 2, (strip_top[0] + strip_top[1]) / 2, facet_names[c], ha='center', va='center',
            fontsize=6.3, color='#1A1A1A', family=SANS)
for r in range(4):
    y0, y1 = row_px[r]
    bg.add_patch(Rectangle((1067, y0), 16, y1 - y0, color=BLUE, lw=0))
    bg.text(1075, (y0 + y1) / 2, row_names[r], rotation=-90, ha='center', va='center', fontsize=6.3,
            color='#1A1A1A', family=SANS)
    ymax = max(max(hists[r][0]), max(hists[r][1]))
    for c in range(2):
        ax = fig.add_axes(frac(col_px[c][0], y0, col_px[c][1], y1))
        vals = hists[r][c]
        centers = np.arange(len(vals)) * BINW
        ax.bar(centers, vals, width=BINW, color=RED, edgecolor='white', linewidth=0.35)
        ax.set_xlim(-245, 4690)
        ax.set_ylim(-0.05 * ymax, 1.05 * ymax)
        for s in ax.spines.values():
            s.set_visible(False)
        ax.patch.set_alpha(0)
        if r == 2:
            yt, yl = [0, 0.1, 0.2, 0.3], ['0.0', '0.1', '0.2', '0.3']
        else:
            yt, yl = [0, 0.05, 0.10], ['0.00', '0.05', '0.10']
        ax.set_yticks(yt)
        if c == 0:
            ax.set_yticklabels(yl)
        else:
            ax.set_yticklabels([])
            ax.tick_params(axis='y', length=0)
        ax.set_xticks(xticks_b)
        if r == 3:
            ax.set_xticklabels([str(t) for t in xticks_b])
        else:
            ax.set_xticklabels([])
            ax.tick_params(axis='x', length=0)
        ax.tick_params(labelsize=7.6, labelcolor='#4D4D4D', color='#333333', length=2.5, width=0.6, pad=1.5)
        for lab in ax.get_xticklabels() + ax.get_yticklabels():
            lab.set_family(SANS)
bg.text(15, 467, 'Proportion of reads', rotation=90, ha='center', va='center', fontsize=9.5,
        fontweight='bold', family=SANS)
bg.text(558, 667, 'Read length', ha='center', va='center', fontsize=9.5, fontweight='bold', family=SANS)

# ------------------------------------------------------------------ Panel C
bg.add_patch(Rectangle((3, 705), 1084, 473, fill=False, edgecolor='#555555', lw=1.1))
bg.text(9, 723, 'C', fontsize=13.5, fontweight='bold', family=SANS, ha='left', va='center')
PX0, PX1 = 72, 1067

# genome axis (ruler)
axr = fig.add_axes(frac(PX0, 705, PX1, 745))
axr.set_xlim(0, GENOME_KB)
axr.set_ylim(745, 705)
axr.axis('off')
GRAY = '#8A8A8A'
for yy in (722.3, 725.7):
    axr.plot([1.2, GENOME_KB + 0.8], [yy, yy], color=GRAY, lw=0.9, clip_on=False)
axr.plot([1.2, 2.6], [725.7, 728.5], color=GRAY, lw=0.9, clip_on=False)
axr.plot([GENOME_KB + 0.8, GENOME_KB - 0.8], [722.3, 719.8], color=GRAY, lw=0.9, clip_on=False)
for k, t in enumerate(ruler_ticks_kb):
    if k % 2 == 0:
        axr.plot([t, t], [719.5, 722.3], color=GRAY, lw=0.9)
        axr.text(t, 713.5, f'{t} kb', ha='center', va='center', fontsize=5.8, color='#777777')
    else:
        axr.plot([t, t], [725.7, 728.5], color=GRAY, lw=0.9)
        axr.text(t, 735, f'{t} kb', ha='center', va='center', fontsize=5.8, color='#777777')

# region annotation track
axg = fig.add_axes(frac(PX0, 738, PX1, 766))
axg.set_xlim(0, GENOME_KB)
axg.set_ylim(766, 738)
axg.axis('off')
axg.plot([0, GENOME_KB], [756.5, 756.5], color='#B0B0B0', lw=0.9)
for (name, s, e), lx in zip(regions, region_label_kb):
    axg.add_patch(Rectangle((s, 752), e - s, 9, facecolor=BLUE, edgecolor='#9AA5AA', lw=0.6))
    axg.text(lx, 750, name, ha='center', va='bottom', fontsize=8.8, color='black', family='DejaVu Sans')
axg.plot([orilyt_kb, orilyt_kb], [752, 761], color='#8FA3B0', lw=1.0)
axg.text(orilyt_kb, 750, 'OriLyt', ha='center', va='bottom', fontsize=8.8, color='black', family='DejaVu Sans')

# genes track
axgene = fig.add_axes(frac(PX0, 764, PX1, 819))
axgene.set_xlim(0, GENOME_KB)
axgene.set_ylim(2.5, -0.5)
axgene.axis('off')
HALF = 0.28
for s, e, rrow in gene_links:
    axgene.plot([s, e], [rrow, rrow], color='#9A9A9A', lw=0.7)
for s, e, strand, rrow in genes:
    L = e - s
    head = min(0.55 * L, 3.2)
    if strand == '+':
        pts = [(s, rrow - HALF), (e - head, rrow - HALF), (e, rrow), (e - head, rrow + HALF), (s, rrow + HALF)]
    elif strand == '-':
        pts = [(e, rrow - HALF), (s + head, rrow - HALF), (s, rrow), (s + head, rrow + HALF), (e, rrow + HALF)]
    else:
        pts = [(s, rrow - HALF), (e, rrow - HALF), (e, rrow + HALF), (s, rrow + HALF)]
    axgene.add_patch(Polygon(pts, closed=True, facecolor=BLUE, edgecolor='#8C9AA3', lw=0.5))
bg.text(30, 791, 'Genes', rotation=90, ha='center', va='center', fontsize=8.5, fontweight='bold', family=SANS)

# coverage tracks
cov_tracks = [cap_cov, noncap_cov, drna_cov, sequel_cov]
track_px = [(823, 903), (912, 992), (1000, 1080), (1088, 1169)]
cov_axes = []
for name, pts, (y0, y1) in zip(track_names, cov_tracks, track_px):
    ax = fig.add_axes(frac(PX0, y0, PX1, y1))
    kb = np.array([p[0] for p in pts])
    lg = np.array([p[1] for p in pts])
    top = lg.max()
    ax.fill_between(kb, 1.0, np.power(10.0, lg), color=RED, lw=0.4, edgecolor=RED)
    ax.axhline(1.0, color=RED, lw=1.3, clip_on=False)
    ax.set_yscale('log')
    ax.set_ylim(1.0, 10 ** top)
    ax.set_xlim(0, GENOME_KB)
    ks = list(range(0, int(np.floor(top)) + 1))
    ax.yaxis.set_major_locator(FixedLocator([10.0 ** k for k in ks]))
    ax.yaxis.set_major_formatter(FixedFormatter(['$10^{%d}$' % k for k in ks]))
    ax.yaxis.set_minor_locator(NullLocator())
    ax.set_xticks([])
    for sname in ('top', 'right', 'bottom'):
        ax.spines[sname].set_visible(False)
    ax.spines['left'].set_position(('outward', 8))
    ax.spines['left'].set_color('#333333')
    ax.spines['left'].set_linewidth(0.8)
    ax.tick_params(axis='y', labelsize=7.0, length=3, width=0.8, color='#333333', pad=1.5, labelcolor='#222222')
    ax.patch.set_alpha(0)
    cov_axes.append(ax)
    bg.text(23, (y0 + y1) / 2, name, rotation=90, ha='center', va='center', fontsize=8.5,
            fontweight='bold', family=SANS)

# keep the Cap "10^0" and Non-cap "10^5" labels from touching
fig.canvas.draw()
up = mtransforms.ScaledTranslation(0, 3 / 100, fig.dpi_scale_trans)
down = mtransforms.ScaledTranslation(0, -3 / 100, fig.dpi_scale_trans)
cap_labels = cov_axes[0].get_yticklabels()
cap_labels[0].set_transform(cap_labels[0].get_transform() + up)
nc_labels = cov_axes[1].get_yticklabels()
nc_labels[-1].set_transform(nc_labels[-1].get_transform() + down)

fig.savefig('out.png', dpi=100, facecolor='white')
